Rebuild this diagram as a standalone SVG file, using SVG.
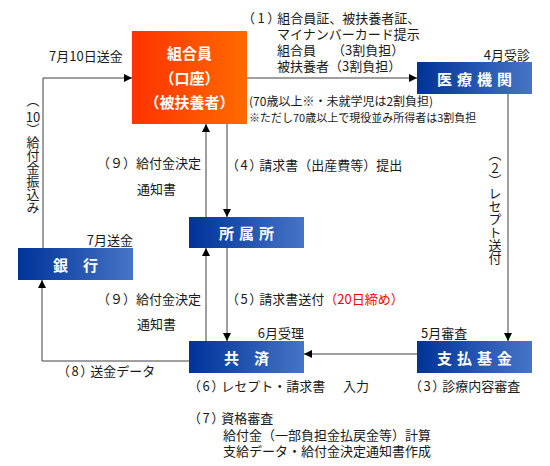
<svg xmlns="http://www.w3.org/2000/svg" width="550" height="466" viewBox="0 0 550 466">
<style>
.t{font-family:"Noto Sans CJK JP","Noto Sans",sans-serif;font-size:13px;fill:#1a1a1a}
.s12{font-size:12px}
.s11{font-size:11px}
.p{font-feature-settings:"palt"}
.n{font-family:"Noto Sans CJK JP","Noto Sans",sans-serif;font-size:15px;font-weight:bold;fill:#fff;text-anchor:middle;dominant-baseline:central}
.c{fill:none;stroke:#404040;stroke-width:1}
.v{writing-mode:vertical-rl}
.red{fill:#ff0000}
</style>
<defs>
<linearGradient id="gO" x1="0" y1="0" x2="1" y2="0"><stop offset="0" stop-color="#ff3300"/><stop offset="1" stop-color="#ff6a00"/></linearGradient>
<linearGradient id="gB" x1="0" y1="0" x2="1" y2="0"><stop offset="0" stop-color="#003399"/><stop offset="1" stop-color="#4674c6"/></linearGradient>
<marker id="a" markerUnits="userSpaceOnUse" markerWidth="8" markerHeight="8" refX="8" refY="4" orient="auto"><path d="M0,0 L8,4 L0,8 z" fill="#000"/></marker>
</defs>

<g id="connectors">
<path class="c" d="M247,78 H417" marker-end="url(#a)"/>
<path class="c" d="M43,248 V78 H132" marker-end="url(#a)"/>
<path class="c" d="M508,94 V341" marker-end="url(#a)"/>
<path class="c" d="M417,354 H304" marker-end="url(#a)"/>
<path class="c" d="M189,361 H42 V280" marker-end="url(#a)"/>
<path class="c" d="M206,217 V124" marker-end="url(#a)"/>
<path class="c" d="M227,124 V217" marker-end="url(#a)"/>
<path class="c" d="M206,341 V248" marker-end="url(#a)"/>
<path class="c" d="M227,248 V341" marker-end="url(#a)"/>
</g>

<g id="kumiaiin">
<rect x="132" y="31" width="115" height="93" fill="url(#gO)"/>
<text class="n" x="189.5" y="52">組合員</text>
<text class="n" x="189.5" y="77">（口座）</text>
<text class="n" x="189.5" y="101">（被扶養者）</text>
</g>
<g id="iryokikan">
<rect x="417" y="62" width="115" height="32" fill="url(#gB)"/>
<text class="n" x="477" y="78" letter-spacing="5">医療機関</text>
</g>
<g id="shozokusho">
<rect x="189" y="217" width="115" height="31" fill="url(#gB)"/>
<text class="n" x="249" y="232.5" letter-spacing="5">所属所</text>
</g>
<g id="ginko">
<rect x="18" y="248" width="115" height="32" fill="url(#gB)"/>
<text class="n" x="75.5" y="264">銀　行</text>
</g>
<g id="kyosai">
<rect x="189" y="341" width="115" height="32" fill="url(#gB)"/>
<text class="n" x="246.5" y="357">共　済</text>
</g>
<g id="shiharaikikin">
<rect x="417" y="341" width="115" height="32" fill="url(#gB)"/>
<text class="n" x="477" y="357" letter-spacing="5">支払基金</text>
</g>

<g id="labels">
<text class="t" x="49" y="61">7月10日送金</text>
<text class="t" x="248" y="23"><tspan class="p">（</tspan><tspan dx="3">1</tspan><tspan class="p" dx="3">）</tspan><tspan dx="3">組合員証、被扶養者証、</tspan></text>
<text class="t" x="277" y="39">マイナンバーカード提示</text>
<text class="t" x="277" y="55">組合員　 （3割負担）</text>
<text class="t" x="277" y="71">被扶養者（3割負担）</text>
<text class="t" x="530" y="60" text-anchor="end">4月受診</text>
<text class="t s12" x="249" y="106">(70歳以上※・未就学児は2割負担)</text>
<text class="t s11" x="249" y="122">※ただし70歳以上で現役並み所得者は3割負担</text>

<text class="t" x="97" y="168">（９）給付金決定</text>
<text class="t" x="137" y="194">通知書</text>
<text class="t" x="232" y="170"><tspan class="p">（</tspan><tspan dx="2">4</tspan><tspan class="p" dx="2">）</tspan><tspan dx="3">請求書（出産費等）提出</tspan></text>
<text class="t" x="133" y="245" text-anchor="end">7月送金</text>

<text class="t" x="97" y="304">（９）給付金決定</text>
<text class="t" x="137" y="329">通知書</text>
<text class="t" x="232" y="304"><tspan class="p">（</tspan><tspan dx="2">5</tspan><tspan class="p" dx="2">）</tspan><tspan dx="3">請求書送付</tspan><tspan class="red">（20日締め）</tspan></text>
<text class="t" x="304" y="338" text-anchor="end">6月受理</text>
<text class="t" x="421" y="338">5月審査</text>
<text class="t" x="63" y="376"><tspan class="p">（</tspan><tspan dx="2">8</tspan><tspan class="p" dx="2">）</tspan><tspan dx="3">送金データ</tspan></text>
<text class="t" x="194" y="391"><tspan class="p">（</tspan><tspan dx="2">6</tspan><tspan class="p" dx="2">）</tspan><tspan dx="3">レセプト・請求書</tspan></text>
<text class="t" x="343" y="391">入力</text>
<text class="t" x="415" y="391"><tspan class="p">（</tspan><tspan dx="2">3</tspan><tspan class="p" dx="2">）</tspan><tspan dx="3">診療内容審査</tspan></text>
<text class="t" x="194" y="423"><tspan class="p">（</tspan><tspan dx="2">7</tspan><tspan class="p" dx="2">）</tspan><tspan dx="3">資格審査</tspan></text>
<text class="t" x="223" y="440">給付金（一部負担金払戻金等）計算</text>
<text class="t" x="223" y="456">支給データ・給付金決定通知書作成</text>

<text class="t v" x="33" y="94">（</text>
<text class="t" x="33" y="122" text-anchor="middle">10</text>
<text class="t v" x="33" y="123">）給付金振込み</text>

<text class="t v" x="495" y="148">（</text>
<text class="t" x="495" y="173" text-anchor="middle">2</text>
<text class="t v" x="495" y="174">）レセプト送付</text>
</g>
</svg>
